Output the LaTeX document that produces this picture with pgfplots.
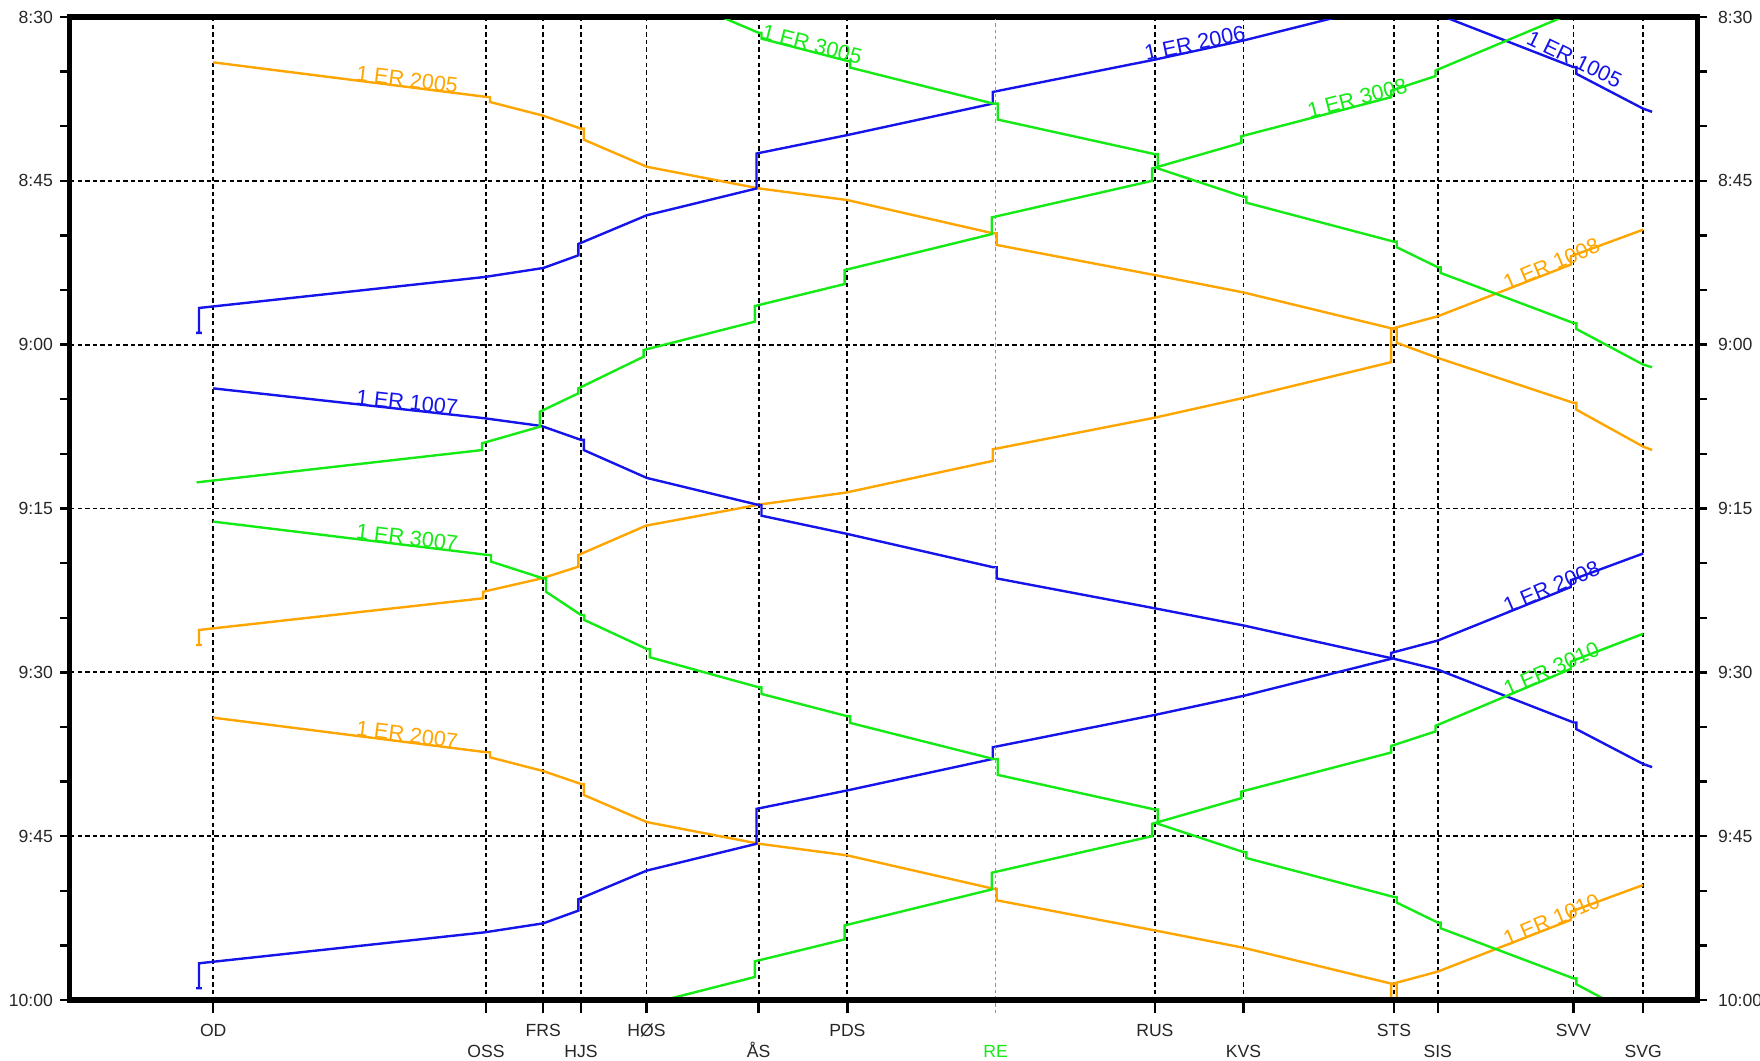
\documentclass[border=0pt]{standalone}
\usepackage{fontspec}
\setmainfont{Liberation Sans}
\usepackage{pgfplots}
\pgfplotsset{compat=1.18}
\definecolor{trOrange}{RGB}{255,165,0}
\definecolor{trGreen}{RGB}{20,235,20}
\definecolor{trBlue}{RGB}{20,20,235}

\pgfplotsset{
  railbase/.style={
    scale only axis, width=813.5pt, height=491.5pt,
    xmin=62.4, xmax=1512, ymin=0, ymax=90, y dir=reverse,
    ytick={0,15,30,45,60,75,90},
    yticklabels={8:30,8:45,9:00,9:15,9:30,9:45,10:00},
    tick align=outside,
    tick label style={font=\fontsize{8.8}{10}\selectfont, text=black!85},
  },
  trk/.style={line width=1.2pt},
}

\begin{document}
\begin{tikzpicture}
\begin{axis}[
  railbase,
  axis line style={line width=2.5pt},
  xtick pos=bottom, ytick pos=both, yticklabel pos=left,
  xtick={190,484,576,755,1029,1242,1402},
  xticklabels={OD,FRS,HØS,PDS,RUS,STS,SVV},
  extra x ticks={433,517.7,676,1108,1281,1464},
  extra x tick labels={OSS,HJS,ÅS,KVS,SIS,SVG},
  extra x tick style={grid=major, xticklabel style={yshift=-10.3pt}},
  xticklabel style={anchor=base, yshift=-13.3pt},
  minor y tick num=2,
  grid=major,
  major grid style={black, line width=0.9pt, dash pattern=on 2.2pt off 1.6pt},
  major tick length=5pt, minor tick length=5pt,
  xtick style={black, line width=1.2pt, /pgfplots/major tick length=6.5pt},
  ytick style={black, line width=1.2pt},
  minor tick style={black, line width=1.2pt},
]
% orange: 1 ER 2005 / 2007 (OD -> SVG)
\addplot[trk, trOrange] coordinates {(190,4.15) (433.6,7.32) (436.6,7.32) (436.6,7.78) (484.1,9.04) (517.7,10.22) (520.2,10.22) (520.2,11.23) (576.3,13.71) (676,15.69) (755,16.76) (885,19.81) (888,19.81) (888,20.87) (1029,23.63) (1108,25.22) (1242,28.56) (1244.5,28.56) (1244.5,29.83) (1281,31.21) (1402,35.33) (1404.5,35.33) (1404.5,35.95) (1464,39.33) (1472,39.64)};
\addplot[trk, trOrange] coordinates {(190,64.15) (433.6,67.32) (436.6,67.32) (436.6,67.78) (484.1,69.04) (517.7,70.22) (520.2,70.22) (520.2,71.23) (576.3,73.71) (676,75.69) (755,76.76) (885,79.81) (888,79.81) (888,80.87) (1029,83.63) (1108,85.22) (1242,88.56) (1244.5,88.56) (1244.5,89.83) (1281,91.21)};
% orange: 1 ER 1008 / 1010 (SVG -> OD)
\addplot[trk, trOrange] coordinates {(174.8,57.50) (179.8,57.50) (177.3,57.50) (177.3,56.12) (430.5,53.22) (430.5,52.62) (482.6,51.40) (515.3,50.33) (515.3,49.26) (575.6,46.57) (676,44.65) (754.3,43.53) (884.5,40.64) (884.5,39.58) (1029,36.68) (1108,34.87) (1239.5,31.60) (1239.5,28.55) (1281,27.40) (1399.5,22.67) (1399.5,21.91) (1464,19.47)};
\addplot[trk, trOrange] coordinates {(1029,96.68) (1108,94.87) (1239.5,91.60) (1239.5,88.55) (1281,87.40) (1399.5,82.67) (1399.5,81.91) (1464,79.47)};
% blue: 1 ER 2006 / 2008 (SVG -> OD)
\addplot[trk, trBlue] coordinates {(174.8,28.92) (179.8,28.92) (177.3,28.92) (177.3,26.64) (432.1,23.80) (484.1,22.98) (515.3,21.82) (515.3,20.78) (576.3,18.15) (674,15.70) (674,12.50) (755,10.81) (884.5,7.93) (884.5,6.86) (1029,3.90) (1108,2.15) (1239.5,-1.24) (1239.5,-1.78) (1281,-2.91)};
\addplot[trk, trBlue] coordinates {(174.8,88.92) (179.8,88.92) (177.3,88.92) (177.3,86.64) (432.1,83.80) (484.1,82.98) (515.3,81.82) (515.3,80.78) (576.3,78.15) (674,75.70) (674,72.50) (755,70.81) (884.5,67.93) (884.5,66.86) (1029,63.90) (1108,62.15) (1239.5,58.76) (1239.5,58.22) (1281,57.09) (1399.5,52.19) (1399.5,51.57) (1464,49.12)};
% blue: 1 ER 1005 / 1007 (OD -> SVG)
\addplot[trk, trBlue] coordinates {(1108,-4.29) (1242,-1.24) (1281,-0.25) (1402,4.59) (1404.5,4.59) (1404.5,5.20) (1464,8.39) (1472,8.68)};
\addplot[trk, trBlue] coordinates {(190,34.00) (432,36.74) (482.6,37.45) (517.7,38.72) (520.2,38.72) (520.2,39.65) (576.3,42.20) (676,44.68) (678.5,44.68) (678.5,45.66) (755,47.33) (885,50.38) (888,50.38) (888,51.40) (1029,54.14) (1108,55.71) (1242,58.76) (1281,59.75) (1402,64.59) (1404.5,64.59) (1404.5,65.20) (1464,68.39) (1472,68.68)};
% green: 1 ER 3005 / 3007 (OD -> SVG)
\addplot[trk, trGreen] coordinates {(579,-2.8) (676,1.45) (678.5,1.45) (678.5,1.98) (755,4.02) (757.5,4.02) (757.5,4.63) (885,7.93) (889,7.93) (889,9.39) (1029,12.56) (1031.5,12.56) (1031.5,13.86) (1108,16.46) (1110.5,16.46) (1110.5,17.00) (1242,20.57) (1244.5,20.57) (1244.5,21.08) (1281,22.91) (1283.5,22.91) (1283.5,23.43) (1402,28.02) (1404.5,28.02) (1404.5,28.56) (1464,31.82) (1472,32.07)};
\addplot[trk, trGreen] coordinates {(190,46.20) (435.1,49.26) (437.5,49.26) (437.5,49.86) (484,51.40) (486.5,51.40) (486.5,52.62) (517.7,54.75) (520.5,54.75) (520.5,55.20) (576.3,57.86) (579,57.86) (579,58.62) (676,61.37) (678.5,61.37) (678.5,61.98) (755,64.02) (757.5,64.02) (757.5,64.63) (885,67.93) (889,67.93) (889,69.39) (1029,72.56) (1031.5,72.56) (1031.5,73.86) (1108,76.46) (1110.5,76.46) (1110.5,77.00) (1242,80.57) (1244.5,80.57) (1244.5,81.08) (1281,82.91) (1283.5,82.91) (1283.5,83.43) (1402,88.02) (1404.5,88.02) (1404.5,88.56) (1464,91.82)};
% green: 1 ER 3008 / 3010 (SVG -> OD)
\addplot[trk, trGreen] coordinates {(175.2,42.61) (429.5,39.65) (429.5,39.03) (481.1,37.51) (481.1,36.13) (515.3,34.46) (515.3,34.00) (573.5,31.10) (573.5,30.49) (672.6,27.89) (672.6,26.46) (752.6,24.45) (752.6,23.17) (883.6,19.88) (883.6,18.35) (1026.5,15.00) (1026.5,13.87) (1106,11.52) (1106,10.92) (1239.5,7.34) (1239.5,6.74) (1279,5.41) (1279,4.90) (1399.5,-0.31) (1399.5,-0.98) (1464,-3.53)};
\addplot[trk, trGreen] coordinates {(573.5,91.10) (573.5,90.49) (672.6,87.89) (672.6,86.46) (752.6,84.45) (752.6,83.17) (883.6,79.88) (883.6,78.35) (1026.5,75.00) (1026.5,73.87) (1106,71.52) (1106,70.92) (1239.5,67.34) (1239.5,66.74) (1279,65.41) (1279,64.90) (1399.5,59.69) (1399.5,59.02) (1464,56.47)};
% train names
\begin{scope}[every node/.style={font=\fontsize{10.8}{12}\selectfont, anchor=base, inner sep=1pt}]
\node[text=trOrange, rotate=-7.2] at (axis cs:362,6.39) {1 ER 2005};
\node[text=trBlue, rotate=-6.3] at (axis cs:362,35.95) {1 ER 1007};
\node[text=trGreen, rotate=-6.9] at (axis cs:362,48.35) {1 ER 3007};
\node[text=trOrange, rotate=-7.2] at (axis cs:362,66.39) {1 ER 2007};
\node[text=trGreen, rotate=-14.5] at (axis cs:722,3.14) {1 ER 3005};
\node[text=trBlue, rotate=11.9] at (axis cs:1066,3.06) {1 ER 2006};
\node[text=trGreen, rotate=14.6] at (axis cs:1211,8.10) {1 ER 3008};
\node[text=trBlue, rotate=-26] at (axis cs:1400,4.5) {1 ER 1005};
\node[text=trOrange, rotate=23] at (axis cs:1385,23.25) {1 ER 1008};
\node[text=trBlue, rotate=23] at (axis cs:1385,52.79) {1 ER 2008};
\node[text=trGreen, rotate=24] at (axis cs:1385,60.3) {1 ER 3010};
\node[text=trOrange, rotate=23] at (axis cs:1385,83.25) {1 ER 1010};
\end{scope}
\end{axis}
% second axis: RE station line and time labels on the right
\begin{axis}[
  railbase,
  axis line style={draw=none},
  xtick pos=bottom, ytick pos=right, yticklabel pos=right,
  xtick={887}, xticklabels={RE},
  xmajorgrids,
  major grid style={trGreen, line width=0.7pt, dash pattern=on 1.6pt off 1.6pt},
  xtick style={trGreen, line width=0.7pt, dash pattern=on 1.6pt off 1.6pt, /pgfplots/major tick length=6.5pt},
  ytick style={draw=none},
  major tick length=5pt,
  xticklabel style={anchor=base, yshift=-23.6pt, text=trGreen},
  yticklabel style={xshift=2pt},
]
\end{axis}
\draw[line width=2.5pt] (current axis.south west) rectangle (current axis.north east);
\pgfresetboundingbox
\path[use as bounding box] ([shift={(-35pt,-30.5pt)}]current axis.south west) rectangle ([shift={(31.5pt,8.5pt)}]current axis.north east);
\end{tikzpicture}
\end{document}
